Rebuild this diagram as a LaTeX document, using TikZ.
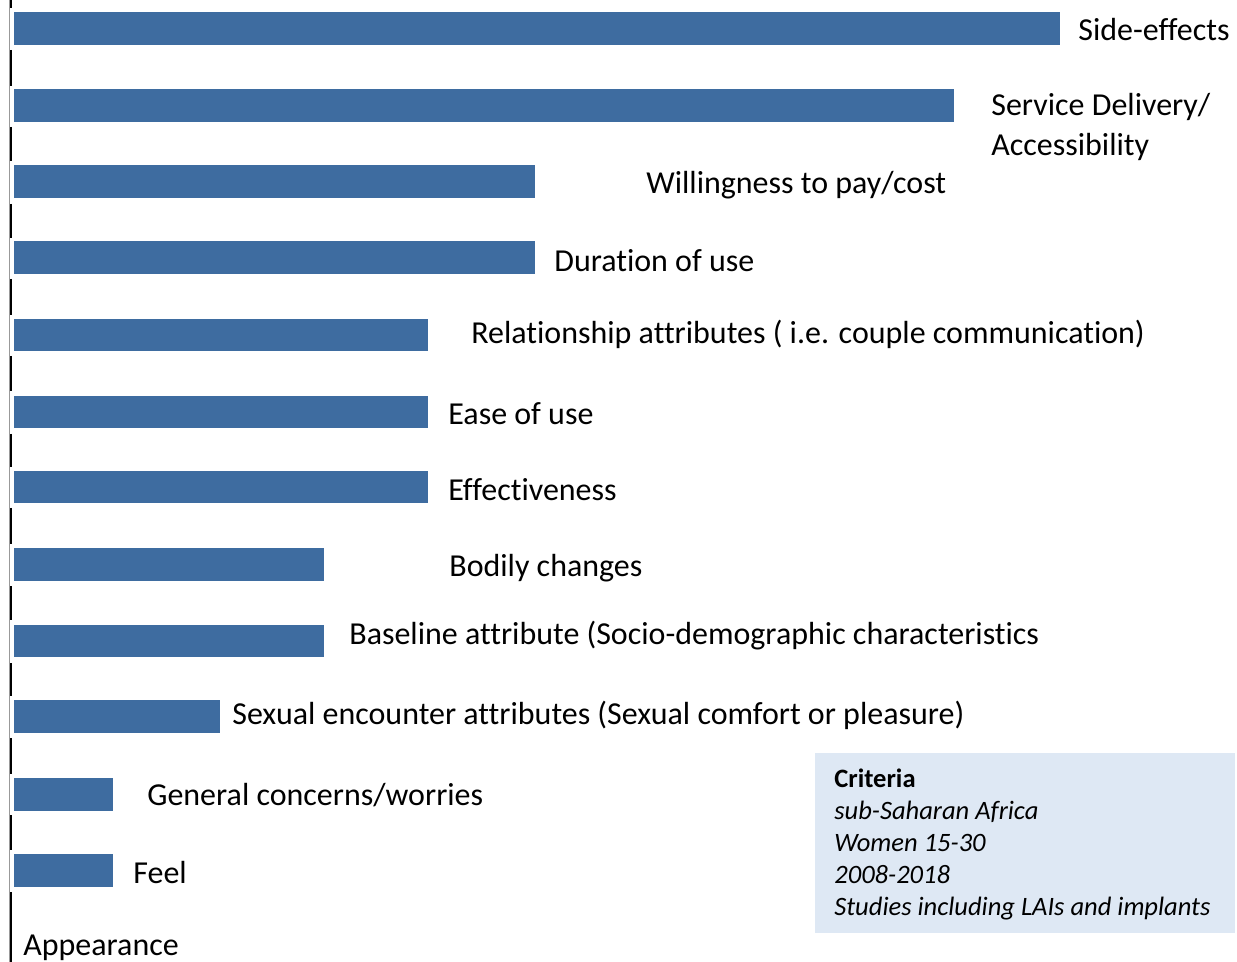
\documentclass[tikz,border=0pt]{standalone}
\usepackage{fontspec}
\setmainfont{Carlito}[RawFeature=-liga, RawFeature=-clig, RawFeature=-dlig, RawFeature=-calt]
\usepackage{xcolor}
\usepackage{tikz}
\definecolor{barblue}{RGB}{62,108,160}
\definecolor{critbg}{RGB}{222,232,244}

\begin{document}
\begin{tikzpicture}[x=0.02cm, y=-0.02cm,
	bar/.style={draw=none, fill=barblue, anchor=west, minimum height=0.66cm, inner sep=0},
	lbl/.style={anchor=west, inner sep=0, font=\fontsize{18.2}{23.2}\selectfont, align=left},
	critbox/.style={fill=critbg, anchor=north west, minimum width=8.4cm, minimum height=3.6cm, inner sep=0},
	crittext/.style={anchor=north west, inner sep=0, align=left, font=\fontsize{15.1}{18.1}\selectfont}
]
\useasboundingbox (0,0) rectangle (1237,962);

% axis
\draw[black!40, line width=0.4pt] (9,0) -- (9,962);
\foreach \ya/\yb in {0/8, 50/86, 127/161, 204/238, 279/315, 356/391, 434/467, 508/544, 586/620, 663/696, 738/774, 815/850, 892/962}
	\draw[black, line width=1.6pt] (11,\ya) -- (11,\yb);

% bars
\node[bar, minimum width=20.92cm] (side) at (14,29) {};
\node[bar, minimum width=18.8cm] (serv) at (14,106) {};
\node[bar, minimum width=10.42cm] (will) at (14,182) {};
\node[bar, minimum width=10.42cm] (dur) at (14,258) {};
\node[bar, minimum width=8.28cm] (rel) at (14,335) {};
\node[bar, minimum width=8.28cm] (ease) at (14,412) {};
\node[bar, minimum width=8.28cm] (eff) at (14,487) {};
\node[bar, minimum width=6.2cm] (body) at (14,564.5) {};
\node[bar, minimum width=6.2cm] (base) at (14,641) {};
\node[bar, minimum width=4.12cm] (sex) at (14,716.5) {};
\node[bar, minimum width=1.98cm] (gen) at (14,794) {};
\node[bar, minimum width=1.98cm] (feel) at (14,870.5) {};

% labels
\node[lbl] (l-side) at (1078,30) {Side-effects};
\node[lbl] (l-serv) at (991,127) {Service Delivery/\\Accessibility};
\node[lbl] (l-will) at (646,185) {Willingness to pay/cost};
\node[lbl] (l-dur) at (554,261) {Duration of use};
\node[lbl] (l-rel) at (471,334) {Relationship attributes ( i.e. couple communication)};
\node[lbl] (l-ease) at (448,414) {Ease of use};
\node[lbl] (l-eff) at (448,490) {Effectiveness};
\node[lbl] (l-body) at (449,568) {Bodily changes};
\node[lbl] (l-base) at (349,636) {Baseline attribute (Socio-demographic characteristics};
\node[lbl] (l-sex) at (232,715) {Sexual encounter attributes (Sexual comfort or pleasure)};
\node[lbl] (l-gen) at (147,795) {General concerns/worries};
\node[lbl] (l-feel) at (133,873) {Feel};
\node[lbl] (l-app) at (23,948) {Appearance};

% criteria box
\node[critbox] (crit) at (815,753) {};
\node[crittext] (crit-t) at (834,769) {\textbf{Criteria}\\\textit{sub-Saharan Africa}\\\textit{Women 15-30}\\\textit{2008-2018}\\\textit{Studies including LAIs and implants}};
\end{tikzpicture}
\end{document}
